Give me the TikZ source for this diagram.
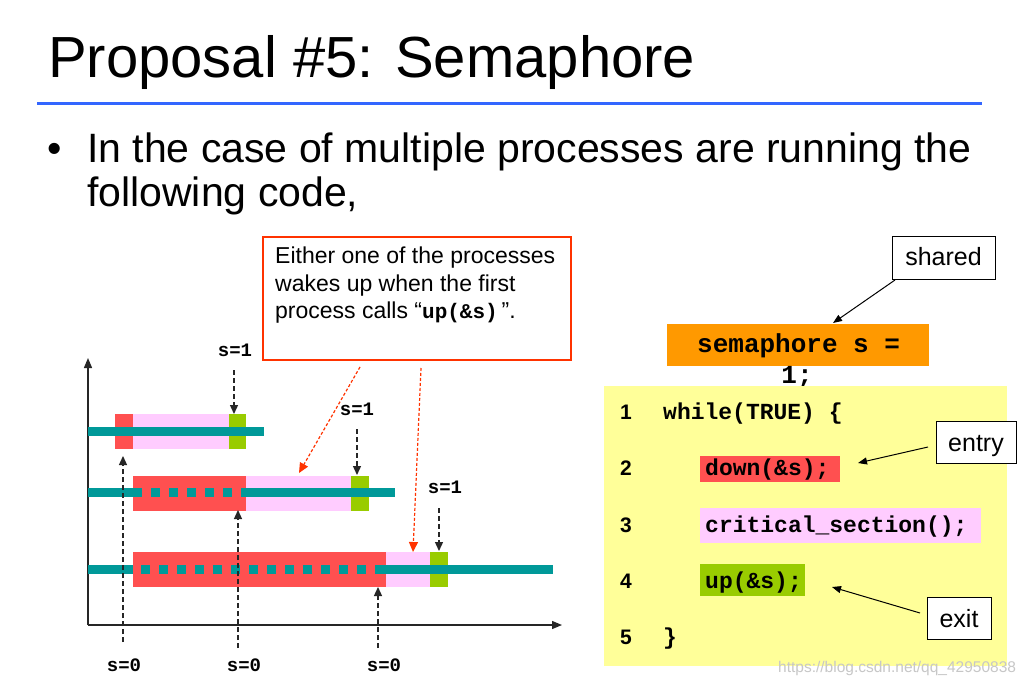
\documentclass[tikz,border=0pt]{standalone}
\usepackage{fontspec}
\setmainfont{Liberation Sans}
\setmonofont{Liberation Mono}
\usetikzlibrary{arrows.meta}
\definecolor{titleblue}{HTML}{3366FF}
\definecolor{calred}{HTML}{FF3300}
\definecolor{teal2}{HTML}{009999}
\definecolor{downred}{HTML}{FF5050}
\definecolor{cspink}{HTML}{FFCCFF}
\definecolor{upgreen}{HTML}{99CC00}
\definecolor{semorange}{HTML}{FF9900}
\definecolor{codeyellow}{HTML}{FFFF99}
\newcommand{\fsz}[2]{\fontsize{#1}{#2}\selectfont}
\begin{document}
\begin{tikzpicture}[x=1pt,y=-1pt,
  txt/.style={inner sep=0pt, anchor=base west},
  ctxt/.style={inner sep=0pt, anchor=base},
  slabel/.style={inner sep=0pt, anchor=base, font=\fsz{19}{22}\ttfamily\bfseries},
  code/.style={inner sep=0pt, anchor=base west, font=\fsz{23}{27}\ttfamily\bfseries},
  lnum/.style={inner sep=0pt, anchor=base, font=\fsz{21}{25}\bfseries},
  blk/.style={inner sep=0pt, outer sep=0pt, anchor=north west, draw=none},
  tagbox/.style={draw=black, line width=1pt, fill=white, inner sep=0pt, anchor=north west},
  axisline/.style={line width=1.3pt, black!85, -{Triangle[length=10pt,width=8pt]}},
  darrow/.style={dash pattern=on 5pt off 3pt, line width=1.3pt, black!85, -{Triangle[length=9pt,width=8pt]}},
  rarrow/.style={dash pattern=on 3pt off 2pt, line width=1.2pt, calred, -{Triangle[length=10pt,width=9pt]}},
  tagarrow/.style={line width=1pt, black, -{Triangle[length=9pt,width=7pt]}}
]
\useasboundingbox (0,0) rectangle (1030,687);
\fill[white] (0,0) rectangle (1030,687);

% title
\node[txt] (title) at (48,78) {\fsz{58}{70}Proposal \#5: Semaphore};
\draw[titleblue, line width=3pt] (37,104) coordinate (tl) -- (982,104) coordinate (tr);

% bullet
\node[txt] (bullet) at (47,163) {\fsz{41}{49}•};
\node[txt] (line1) at (87,163) {\fsz{41}{49}In the case of multiple processes are running the};
\node[txt] (line2) at (87,207) {\fsz{41}{49}following code,};

% callout
\node[blk, draw=calred, line width=1.2pt, fill=white, minimum width=308pt, minimum height=123pt] (callout) at (263,237) {};
\node[txt] (c1) at (275,263) {\fsz{23}{28}Either one of the processes};
\node[txt] (c2) at (275,291) {\fsz{23}{28}wakes up when the first};
\node[txt] (c3) at (275,318) {\fsz{23}{28}process calls “{\fsz{21}{25}\ttfamily\bfseries up(\&s)}\,”.};

% axes
\coordinate (O) at (88,625);
\coordinate (ytop) at (88,358);
\coordinate (xend) at (562,625);
\draw[axisline] (O) -- (ytop);
\draw[axisline] (O) -- (xend);

% process 1
\fill[downred] (115,414) rectangle (133,449);
\fill[cspink] (133,414) rectangle (229,449);
\fill[upgreen] (229,414) rectangle (246,449);
\fill[teal2] (88,427) rectangle (264,436);

% process 2
\fill[downred] (133,476) rectangle (246,511);
\fill[cspink] (246,476) rectangle (351,511);
\fill[upgreen] (351,476) rectangle (369,511);
\fill[teal2] (88,488) rectangle (142,497);
\foreach \k in {0,...,4} {\fill[teal2] ({151+18*\k},488) rectangle ({160+18*\k},497);}
\fill[teal2] (241,488) rectangle (395,497);

% process 3
\fill[downred] (133,552) rectangle (386,587);
\fill[cspink] (386,552) rectangle (430,587);
\fill[upgreen] (430,552) rectangle (448,587);
\fill[teal2] (88,565) rectangle (133,574);
\foreach \k in {0,...,12} {\fill[teal2] ({141+18*\k},565) rectangle ({150+18*\k},574);}
\fill[teal2] (375,565) rectangle (553,574);

% s labels
\node[slabel] (s1a) at (235,356) {s=1};
\node[slabel] (s1b) at (357,415) {s=1};
\node[slabel] (s1c) at (445,493) {s=1};
\node[slabel] (s0a) at (124,671) {s=0};
\node[slabel] (s0b) at (244,671) {s=0};
\node[slabel] (s0c) at (384,671) {s=0};

% dashed arrows
\coordinate (d1s) at (234,370); \coordinate (d1e) at (234,414);
\coordinate (d2s) at (357,429); \coordinate (d2e) at (357,475);
\coordinate (d3s) at (439,508); \coordinate (d3e) at (439,551);
\draw[darrow] (d1s) -- (d1e);
\draw[darrow] (d2s) -- (d2e);
\draw[darrow] (d3s) -- (d3e);
\coordinate (u1s) at (123,642); \coordinate (u1e) at (123,456);
\coordinate (u2s) at (238,648); \coordinate (u2e) at (238,510);
\coordinate (u3s) at (378,648); \coordinate (u3e) at (378,587);
\draw[darrow] (u1s) -- (u1e);
\draw[darrow] (u2s) -- (u2e);
\draw[darrow] (u3s) -- (u3e);

% red dashed arrows
\coordinate (r1s) at (360,367); \coordinate (r1e) at (299,473);
\coordinate (r2s) at (421,368); \coordinate (r2e) at (413,552);
\draw[rarrow] (r1s) -- (r1e);
\draw[rarrow] (r2s) -- (r2e);

% right side: shared / semaphore
\node[tagbox, minimum width=103pt, minimum height=43pt] (shared) at (892,236) {};
\node[ctxt] (sharedtxt) at (943.5,265) {\fsz{25}{30}shared};
\node[blk, fill=semorange, minimum width=262pt, minimum height=42pt] (sem) at (667,324) {};
\node[txt] (semtxt) at (697,352) {\fsz{26}{31}\ttfamily\bfseries semaphore s =};
\node[ctxt] (semone) at (797,383) {\fsz{26}{31}\ttfamily\bfseries 1;};
\coordinate (sha) at (895,280);
\coordinate (shb) at (833,323);
\draw[tagarrow] (sha) -- (shb);

% code box
\node[blk, fill=codeyellow, minimum width=403pt, minimum height=280pt] (codebox) at (604,386) {};
\node[blk, fill=downred, minimum width=140pt, minimum height=26pt] (downbox) at (700,456) {};
\node[blk, fill=cspink, minimum width=281pt, minimum height=35pt] (csbox) at (700,508) {};
\node[blk, fill=upgreen, minimum width=105pt, minimum height=32pt] (upbox) at (700,564) {};

\node[lnum] (n1) at (626,419) {1};
\node[lnum] (n2) at (626,475) {2};
\node[lnum] (n3) at (626,532) {3};
\node[lnum] (n4) at (626,588) {4};
\node[lnum] (n5) at (626,644) {5};
\node[code] (k1) at (663,419) {while(TRUE) \{};
\node[code] (k2) at (705,475) {down(\&s);};
\node[code] (k3) at (705,532) {critical\_section();};
\node[code] (k4) at (705,588) {up(\&s);};
\node[code] (k5) at (663,644) {\}};

% entry / exit
\node[tagbox, minimum width=80pt, minimum height=42pt] (entry) at (936,421) {};
\node[ctxt] (entrytxt) at (976,451) {\fsz{25}{30}entry};
\node[tagbox, minimum width=64pt, minimum height=42pt] (exit) at (927,597) {};
\node[ctxt] (exittxt) at (959,627) {\fsz{25}{30}exit};
\coordinate (ena) at (928,447); \coordinate (enb) at (858,463);
\coordinate (exa) at (920,613); \coordinate (exb) at (832,587);
\draw[tagarrow] (ena) -- (enb);
\draw[tagarrow] (exa) -- (exb);

% watermark
\node[txt, text=black!22] (wm) at (778,672) {\fsz{15.5}{19}https://blog.csdn.net/qq\_42950838};
\end{tikzpicture}
\end{document}
